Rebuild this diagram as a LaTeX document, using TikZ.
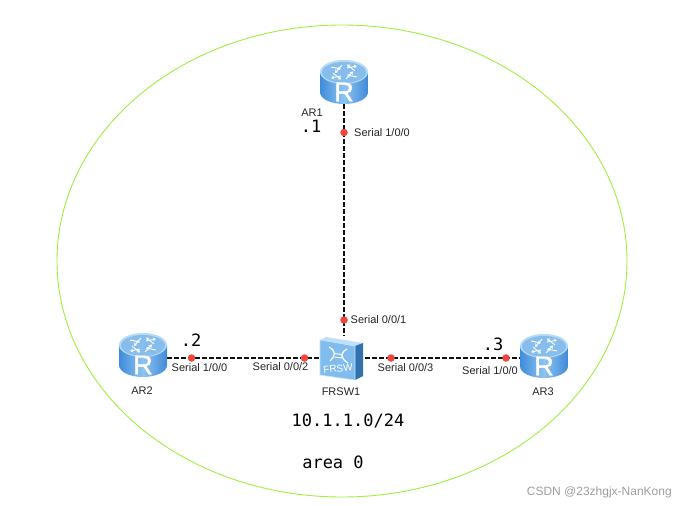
\documentclass[tikz,border=0pt]{standalone}
\usepackage{fontspec}
\setmainfont{Liberation Sans}
\newfontfamily\monof{DejaVu Sans Mono}
\newfontfamily\rfont[FakeBold=1.5]{Liberation Sans}
\usetikzlibrary{shapes.geometric,arrows.meta}
\definecolor{areag}{HTML}{A0EE40}
\definecolor{linkc}{HTML}{111111}
\definecolor{dotred}{HTML}{F0443C}
\definecolor{blue1}{HTML}{3F8CD9}
\definecolor{blue2}{HTML}{4189D6}
\definecolor{blue3}{HTML}{8CC4F2}
\definecolor{top1}{HTML}{B4DAF6}
\definecolor{top2}{HTML}{86BDEC}
\tikzset{
  x=1pt,y=-1pt,
  devbox/.style={inner sep=0pt,minimum width=#1,minimum height=44pt},
  lbl/.style={font=\fontsize{11}{13}\selectfont,text=black!85,inner sep=0pt},
  mono/.style={font=\monof\fontsize{17}{20}\selectfont,text=black,inner sep=0pt},
  linkline/.style={draw=linkc,line width=1.7pt,dash pattern=on 5pt off 2pt},
  reddot/.style={circle,fill=dotred,inner sep=0pt,minimum size=7.5pt},
  wheel/.style={white!90!blue3,line width=1pt,-{Stealth[length=3.2pt,width=4.2pt]}},
  swarm/.style={white,line width=1.2pt},
}
\newcommand{\routerpic}[2]{%
  \begin{scope}[shift={(#1,#2)}]
    \path[left color=blue1,right color=blue2,middle color=blue3]
      (-24,12) -- (-24,32) .. controls (-24,39) and (-13,44) .. (0,44)
      .. controls (13,44) and (24,39) .. (24,32) -- (24,12) -- cycle;
    \path[fill=top1] (0,12) ellipse[x radius=24,y radius=12];
    \path[fill=top2] (0,12.5) ellipse[x radius=22,y radius=10.5];
    \draw[wheel] (-13,7) -- (-3,9);
    \draw[wheel] (-2,5) -- (-9,13);
    \draw[wheel] (3,8) -- (13,6);
    \draw[wheel] (11,11) -- (3,4.5);
    \draw[wheel] (13,17) -- (3,15);
    \draw[wheel] (2,19) -- (9,11.5);
    \draw[wheel] (-3,16) -- (-13,18);
    \draw[wheel] (-11,13) -- (-3,19.5);
    \node[font=\rfont\fontsize{27}{27}\selectfont,text=white,inner sep=0pt] at (0,32) {R};
  \end{scope}}
\begin{document}
\begin{tikzpicture}
\useasboundingbox (0,0) rectangle (678,506);
\fill[white] (0,0) rectangle (678,506);
\node[ellipse,draw=areag,line width=0.9pt,minimum width=570pt,minimum height=472pt,inner sep=0pt] (area) at (342,261) {};

\node[devbox=48pt] (AR1) at (344,82) {};
\node[devbox=48pt] (AR2) at (143,358) {};
\node[devbox=48pt] (AR3) at (544,358) {};
\node[inner sep=0pt,minimum width=42pt,minimum height=43pt] (FRSW1) at (344,358) {};

\path[linkline] (AR1.south) -- (FRSW1.north);
\path[linkline] (AR2.east) -- (FRSW1.west);
\path[linkline] (FRSW1.east) -- (AR3.west);

\routerpic{344}{60}
\routerpic{143}{333}
\routerpic{544}{334}

% switch
\fill[blue3!55!white] (320,340) -- (326,337) -- (363,343) -- (355,346) -- cycle;
\fill[blue1!80!black] (355,346) -- (363,343) -- (363,376) -- (355,380) -- cycle;
\fill[blue3!85!blue1,draw=blue3!50!white,line width=0.6pt] (320,340) -- (355,346) -- (355,380) -- (320,375) -- cycle;
\draw[swarm] (329,347) .. controls (336,351) and (336,355) .. (330,361);
\draw[swarm] (347,349) .. controls (340,353) and (340,358) .. (348,363);
\draw[white,line width=1pt] (334,353.5) -- (342,354.5);
\draw[white,line width=1pt] (334.5,357) -- (342,358);
\node[font=\fontsize{10}{10}\selectfont,text=white,inner sep=0pt,rotate=6] at (338,368.5) {FRSW};

\node[reddot] (d1) at (344,132.5) {};
\node[reddot] (d2) at (344,320) {};
\node[reddot] (d3) at (191.5,358) {};
\node[reddot] (d4) at (304.5,358) {};
\node[reddot] (d5) at (391,358) {};
\node[reddot] (d6) at (506,358) {};

\node[lbl,anchor=west] (s1) at (354,132.5) {Serial 1/0/0};
\node[lbl,anchor=west] (s2) at (350.5,320) {Serial 0/0/1};
\node[lbl,anchor=west] (s3) at (171.5,368) {Serial 1/0/0};
\node[lbl,anchor=west] (s4) at (252.5,367) {Serial 0/0/2};
\node[lbl,anchor=west] (s5) at (377.5,367.5) {Serial 0/0/3};
\node[lbl,anchor=west] (s6) at (462,371) {Serial 1/0/0};

\node[lbl] (t1) at (312,113) {AR1};
\node[lbl] (t2) at (142,390.5) {AR2};
\node[lbl] (t3) at (543,391.5) {AR3};
\node[lbl] (t4) at (341,391.5) {FRSW1};

\node[mono] (a1) at (311,126) {.1};
\node[mono] (a2) at (191,340) {.2};
\node[mono] (a3) at (493,344) {.3};
\node[mono] (n1) at (348,421) {10.1.1.0/24};
\node[mono] (n2) at (333,462) {area 0};
\node[font=\fontsize{12}{12}\selectfont,text=black!38,inner sep=0pt,anchor=east] (wm) at (672,492.5) {CSDN @23zhgjx-NanKong};
\end{tikzpicture}
\end{document}
